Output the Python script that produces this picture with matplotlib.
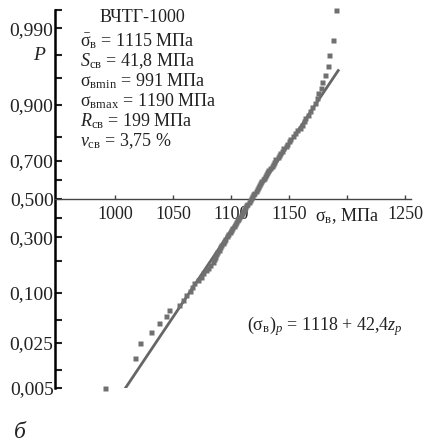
import numpy as np
import matplotlib
matplotlib.use('Agg')
import matplotlib.pyplot as plt
from statistics import NormalDist

plt.rcParams['font.family'] = 'Liberation Serif'
plt.rcParams['mathtext.fontset'] = 'custom'
plt.rcParams['mathtext.rm'] = 'Liberation Serif'
plt.rcParams['mathtext.it'] = 'Liberation Serif:italic'
plt.rcParams['mathtext.bf'] = 'Liberation Serif:bold'

# measured strength values, sorted (100 specimens)
sigma = [991, 1017, 1021, 1031, 1038, 1044, 1046, 1055, 1058, 1061,
         1064, 1066, 1068, 1071, 1074, 1076, 1078, 1080, 1082, 1084,
         1085, 1086, 1087, 1088, 1089, 1090, 1091, 1093, 1094, 1095,
         1096, 1097, 1099, 1100, 1101, 1102, 1103, 1104, 1105, 1106,
         1107, 1108, 1109, 1110, 1111, 1112, 1113, 1114, 1115, 1116,
         1117, 1118, 1119, 1120, 1121, 1122, 1123, 1124, 1125, 1126,
         1127, 1128, 1129, 1130, 1131, 1132, 1133, 1135, 1136, 1137,
         1138, 1140, 1141, 1142, 1144, 1145, 1147, 1148, 1150, 1151,
         1153, 1155, 1157, 1159, 1161, 1163, 1164, 1166, 1168, 1170,
         1172, 1174, 1175, 1177, 1178, 1181, 1183, 1184, 1188, 1190]

fit_a = 1118
fit_b = 42.4
fit_p = [0.005, 0.96]

p_major = [0.005, 0.025, 0.100, 0.300, 0.500, 0.700, 0.900, 0.990]
p_minor = [0.01, 0.05, 0.2, 0.4, 0.6, 0.8, 0.95, 0.975, 0.995]
x_ticks = [1000, 1050, 1100, 1150, 1200, 1250]
x_labels = ['1000', '1050', '1100', '1150', 'σ$_{\\mathrm{в}}$, МПа', '1250']

nd = NormalDist()
_ppf = np.vectorize(nd.inv_cdf, otypes=[float])
_cdf = np.vectorize(nd.cdf, otypes=[float])

def fwd(p):
    p = np.clip(np.asarray(p, dtype=float), 1e-9, 1 - 1e-9)
    return _ppf(p)

def inv(z):
    return _cdf(np.asarray(z, dtype=float))

n = len(sigma)
prob = [(i + 0.5) / n for i in range(n)]

fig = plt.figure(figsize=(4.24, 4.47), dpi=100)
ax = fig.add_axes([55/424, 59/447, 356/424, 378/447])
ax.set_yscale('function', functions=(fwd, inv))

pl = np.linspace(fit_p[0], fit_p[1], 50)
ax.plot(fit_a + fit_b * fwd(pl), pl, color='#666666', lw=2.0, zorder=2)
ax.plot(sigma, prob, 's', ms=3.6, color='#707070', mec='none', zorder=3,
        clip_on=False)

ax.set_xlim(948, 1255)
ax.set_ylim(0.005, 0.995)

for s in ['top', 'right']:
    ax.spines[s].set_visible(False)
ax.spines['left'].set_linewidth(1.8)
ax.spines['bottom'].set_position(('data', 0.5))
ax.spines['bottom'].set_color('#444444')
ax.spines['bottom'].set_linewidth(1.0)

ax.set_yticks(p_major)
ax.set_yticklabels([('%.3f' % p).replace('.', ',') for p in p_major])
ax.set_yticks(p_minor, minor=True)
ax.yaxis.set_minor_formatter(matplotlib.ticker.NullFormatter())
ax.tick_params(axis='y', which='both', direction='in', length=5, width=1.5,
               labelsize=14, pad=1, colors='#222222')

ax.set_xticks(x_ticks)
ax.set_xticklabels(x_labels)
ax.tick_params(axis='x', direction='in', length=3, width=1, color='#444444',
               labelsize=13, pad=5, labelcolor='#222222')
ax.xaxis.set_minor_locator(matplotlib.ticker.NullLocator())

# statistics block
lines = ['$\\bar{\\mathrm{σ}}_{\\mathrm{в}}$ = 1115 МПа',
         '$S_{\\mathrm{св}}$ = 41,8 МПа',
         'σ$_{\\mathrm{вmin}}$ = 991 МПа',
         'σ$_{\\mathrm{вmax}}$ = 1190 МПа',
         '$R_{\\mathrm{св}}$ = 199 МПа',
         '$v_{\\mathrm{св}}$ = 3,75 %']
tc = '#222222'
fig.text(100/424, 1 - 18/447, 'ВЧТГ-1000', fontsize=13, va='center', color=tc)
for k, t in enumerate(lines):
    fig.text(80/424, 1 - (41 + 20*k)/447, t, fontsize=13, va='center', color=tc)

fig.text(247/424, 1 - 326/447, '$(\\mathrm{σ}_{\\mathrm{в}})_p$ = 1118 + 42,4$z_p$',
         fontsize=13, va='center', color=tc)
fig.text(33/424, 1 - 56/447, '$P$', fontsize=14, va='center', color=tc)
fig.text(14/424, 1 - 432/447, 'б', fontsize=17, style='italic', va='center',
         color=tc)

fig.savefig('out.png', dpi=100)
